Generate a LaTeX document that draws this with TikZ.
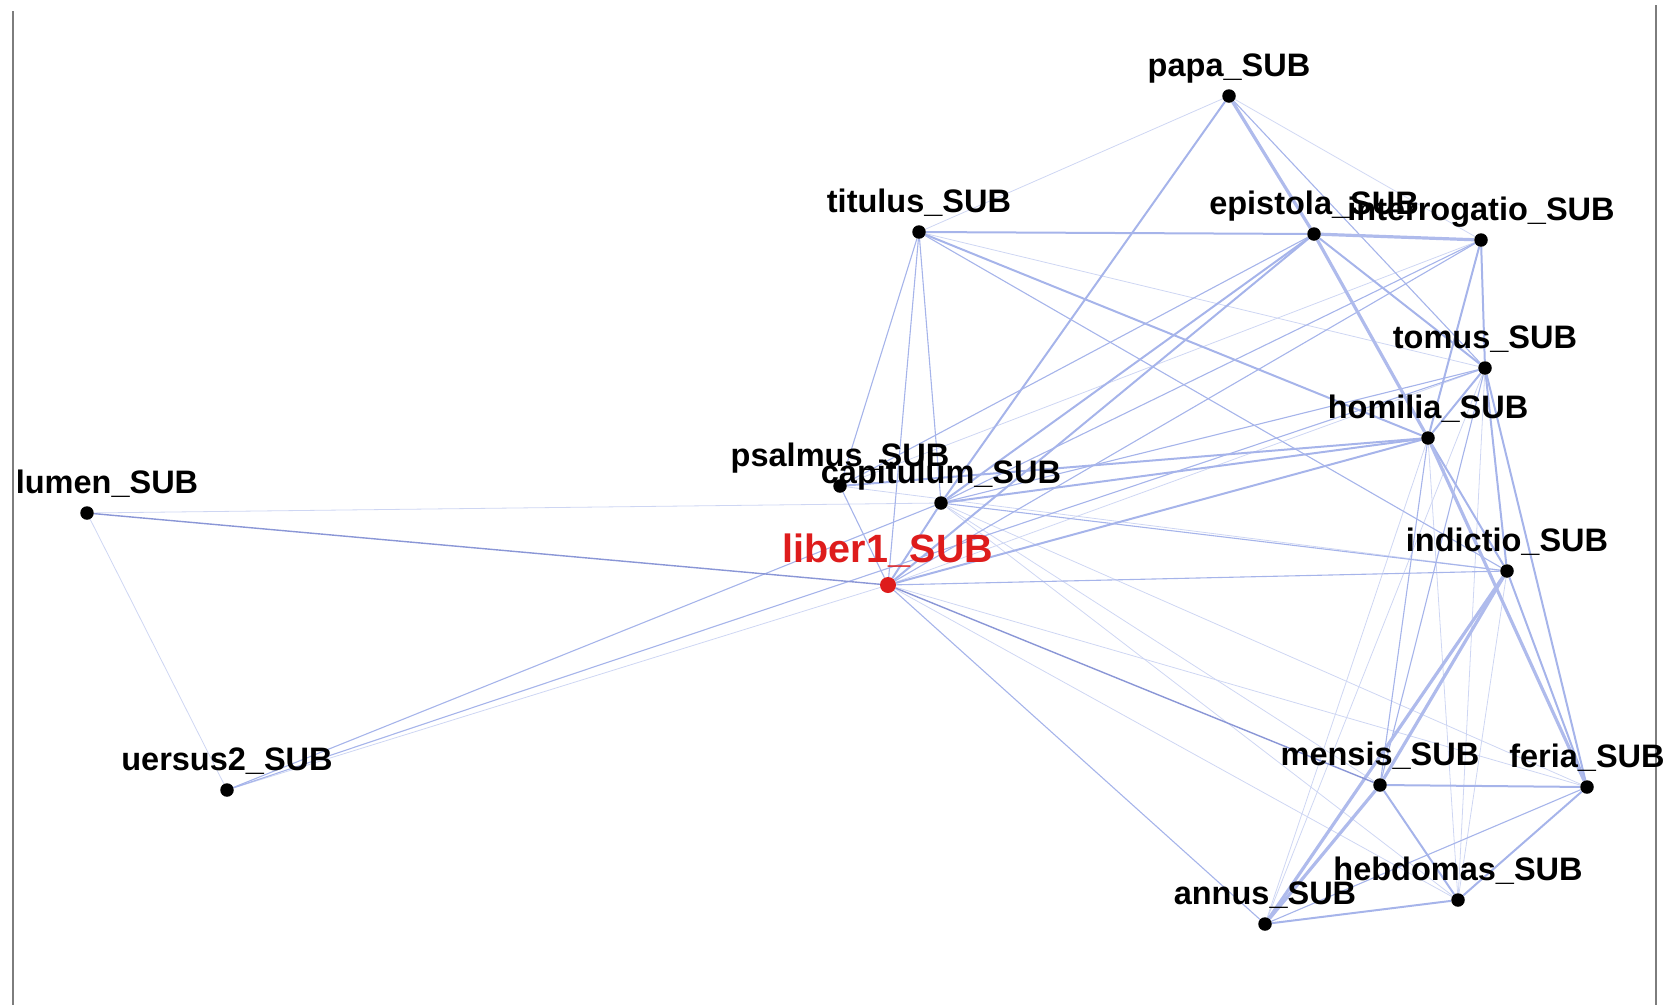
\documentclass[tikz,border=0pt]{standalone}
\usepackage{fontspec}
\setmainfont{Liberation Sans}
\usetikzlibrary{backgrounds}

\definecolor{tieblue}{RGB}{166,180,234}
\definecolor{darkblue}{RGB}{138,150,214}
\definecolor{framegray}{RGB}{125,125,125}
\definecolor{liberred}{RGB}{222,28,28}

\tikzset{
    word/.style={circle, fill=black, inner sep=0pt, minimum size=13.5pt},
    headword/.style={word, fill=liberred, minimum size=16pt},
    wordlabel/.style={anchor=base, inner sep=0pt, font=\bfseries\fontsize{32.5}{34}\selectfont},
    headlabel/.style={wordlabel, text=liberred, font=\bfseries\fontsize{39.5}{41}\selectfont},
    weaktie/.style={draw=tieblue!55, line width=0.8pt},
    tie/.style={draw=tieblue, line width=1.1pt},
    strongtie/.style={draw=tieblue, line width=2pt},
    heavytie/.style={draw=tieblue!90, line width=3.2pt},
    darktie/.style={draw=darkblue, line width=1.4pt},
}

\begin{document}
\begin{tikzpicture}[x=1pt, y=-1pt]
    \useasboundingbox (0,0) rectangle (1665,1005);
    % frame
    \draw[framegray, line width=2.4pt] (13,11) -- (13,1005);
    \draw[framegray, line width=2.4pt] (1656,5) -- (1656,1005);

    % words
    \node[word] (papa) at (1229,96) {};
    \node[word] (titulus) at (919,232) {};
    \node[word] (epistola) at (1314,234) {};
    \node[word] (interrogatio) at (1481,240) {};
    \node[word] (tomus) at (1485,368) {};
    \node[word] (homilia) at (1428,438) {};
    \node[word] (psalmus) at (840,486) {};
    \node[word] (capitulum) at (941,503) {};
    \node[headword] (liber) at (888,585) {};
    \node[word] (lumen) at (87,513) {};
    \node[word] (indictio) at (1507,571) {};
    \node[word] (uersus) at (227,790) {};
    \node[word] (mensis) at (1380,785) {};
    \node[word] (feria) at (1587,787) {};
    \node[word] (hebdomas) at (1458,900) {};
    \node[word] (annus) at (1265,924) {};

    % ties
    \begin{scope}[on background layer]
        \foreach \a/\b in {papa/titulus, papa/interrogatio, titulus/tomus,
            interrogatio/psalmus, tomus/liber, tomus/hebdomas, homilia/annus,
            indictio/hebdomas, indictio/psalmus, liber/hebdomas, liber/feria,
            liber/uersus, capitulum/mensis, capitulum/feria, capitulum/hebdomas,
            capitulum/lumen, lumen/uersus, annus/tomus, homilia/hebdomas}
            \draw[weaktie] (\a) -- (\b);
        \foreach \a/\b in {papa/tomus, titulus/psalmus, titulus/capitulum,
            titulus/liber, titulus/indictio, epistola/psalmus,
            interrogatio/capitulum, interrogatio/liber, tomus/capitulum,
            tomus/uersus, tomus/mensis, homilia/mensis, indictio/capitulum,
            indictio/liber, liber/annus, liber/psalmus, capitulum/uersus,
            annus/feria}
            \draw[tie] (\a) -- (\b);
        \foreach \a/\b in {interrogatio/tomus, tomus/indictio, tomus/homilia,
            interrogatio/homilia, epistola/tomus, homilia/indictio, tomus/feria,
            indictio/feria, mensis/hebdomas, mensis/feria, hebdomas/feria,
            hebdomas/annus, titulus/epistola, titulus/homilia, capitulum/liber,
            capitulum/homilia, psalmus/homilia, liber/homilia, epistola/capitulum,
            papa/capitulum, epistola/liber}
            \draw[strongtie] (\a) -- (\b);
        \foreach \a/\b in {papa/epistola, epistola/interrogatio, epistola/homilia,
            homilia/feria, indictio/mensis, indictio/annus, mensis/annus}
            \draw[heavytie] (\a) -- (\b);
        \foreach \a/\b in {lumen/liber, liber/mensis}
            \draw[darktie] (\a) -- (\b);
    \end{scope}

    % labels
    \node[wordlabel] (papa-text) at ([yshift=20pt]papa.center) {papa\_SUB};
    \node[wordlabel] (titulus-text) at ([yshift=20pt]titulus.center) {titulus\_SUB};
    \node[wordlabel] (epistola-text) at ([yshift=20pt]epistola.center) {epistola\_SUB};
    \node[wordlabel] (interrogatio-text) at ([yshift=20pt]interrogatio.center) {interrogatio\_SUB};
    \node[wordlabel] (tomus-text) at ([yshift=20pt]tomus.center) {tomus\_SUB};
    \node[wordlabel] (homilia-text) at ([yshift=20pt]homilia.center) {homilia\_SUB};
    \node[wordlabel] (psalmus-text) at ([yshift=20pt]psalmus.center) {psalmus\_SUB};
    \node[wordlabel] (capitulum-text) at ([yshift=20pt]capitulum.center) {capitulum\_SUB};
    \node[headlabel] (liber-text) at ([yshift=23pt]liber.center) {liber1\_SUB};
    \node[wordlabel] (lumen-text) at ([xshift=20pt, yshift=20pt]lumen.center) {lumen\_SUB};
    \node[wordlabel] (indictio-text) at ([yshift=20pt]indictio.center) {indictio\_SUB};
    \node[wordlabel] (uersus-text) at ([yshift=20pt]uersus.center) {uersus2\_SUB};
    \node[wordlabel] (mensis-text) at ([yshift=20pt]mensis.center) {mensis\_SUB};
    \node[wordlabel] (feria-text) at ([yshift=20pt]feria.center) {feria\_SUB};
    \node[wordlabel] (hebdomas-text) at ([yshift=20pt]hebdomas.center) {hebdomas\_SUB};
    \node[wordlabel] (annus-text) at ([yshift=20pt]annus.center) {annus\_SUB};
\end{tikzpicture}
\end{document}
